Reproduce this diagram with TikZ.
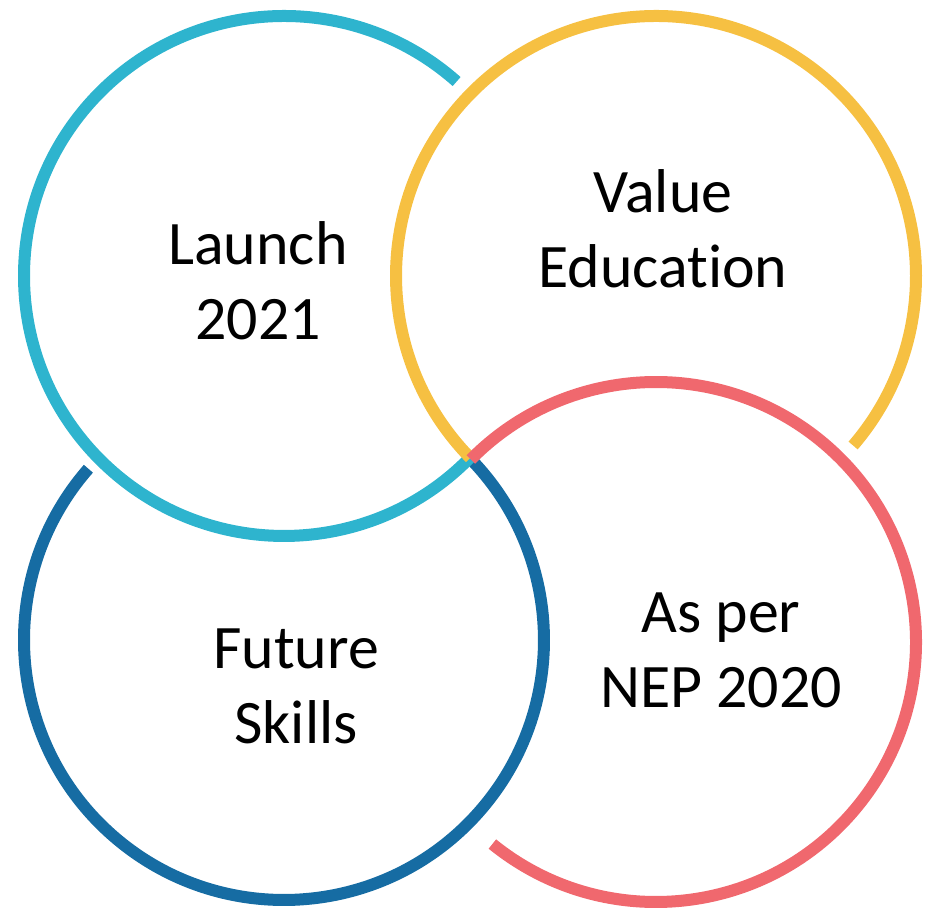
\documentclass[tikz,border=0pt]{standalone}
\usepackage{fontspec}
\setmainfont{Carlito}[Ligatures=NoCommon]
\usepackage{tikz}
\definecolor{ringcyan}{RGB}{46,180,206}
\definecolor{ringyellow}{RGB}{246,192,66}
\definecolor{ringred}{RGB}{240,104,110}
\definecolor{ringblue}{RGB}{22,108,163}
\tikzset{ring/.style={line width=.12cm}}
\tikzset{ringtext/.style={align=center, font=\fontsize{17.6}{21.3}\selectfont}}

\begin{document}
\begin{tikzpicture}[x=1cm,y=1cm]
  \useasboundingbox (0,0) rectangle (9.41,9.16);
  \foreach \x/\y/\lab in {
    2.84/6.40/launch,
    6.56/6.40/value,
    6.56/2.74/nep,
    2.84/2.76/skills%
  } {
    \coordinate (\lab) at (\x, \y);
  }
  % each ring stops where all four meet
  \foreach \c/\col/\a/\b in {
    skills/ringblue/138.8/404.4,
    launch/ringcyan/48.4/315.6,
    value/ringyellow/-40.7/224.4,
    nep/ringred/-129/135.4%
  }{
    \draw[ring, draw=\col] (\c) ++(\a:2.6) arc[start angle=\a, end angle=\b, radius=2.6];
  }
  \node[ringtext] (t1) at (2.58, 6.35) {Launch\\2021};
  \node[ringtext] (t2) at (6.63, 6.87) {Value\\Education};
  \node[ringtext] (t3) at (2.96, 2.30) {Future\\Skills};
  \node[ringtext] (t4) at (7.21, 2.66) {As per\\NEP 2020};
\end{tikzpicture}
\end{document}
